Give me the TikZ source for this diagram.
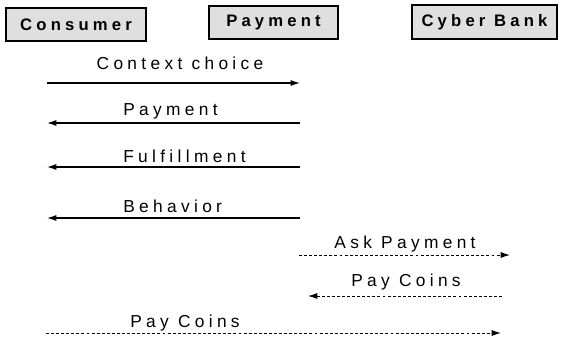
\documentclass[tikz,border=0pt]{standalone}
\usepackage{fontspec}
\setmainfont{Liberation Sans}
\newfontfamily\spacedfont[LetterSpace=25]{Liberation Sans}
\usetikzlibrary{arrows.meta}

\tikzset{
  actor/.style={draw=black, line width=1.3pt, fill=gray!25, minimum height=25pt, inner sep=0pt,
    font=\spacedfont\bfseries\fontsize{12.5}{14}\selectfont},
  msg/.style={line width=0.9pt, -{Latex[length=7pt,width=4.5pt]}},
  reply/.style={msg, line width=0.7pt, dash pattern=on 2.2pt off 1.6pt},
  lbl/.style={inner sep=0pt}
}

\begin{document}
\begin{tikzpicture}[x=0.75pt,y=-0.75pt]
		\tikzstyle{every node}+=[font=\spacedfont\fontsize{13}{15}\selectfont]
		\useasboundingbox (0,0) rectangle (563,339);
		% the three parties
		\node [actor, minimum width=105pt] (consumer) at (76,24.5) {Consumer};
		\node [actor, minimum width=97pt] (payment) at (273.5,22.5) {Payment};
		\node [actor, minimum width=109pt] (bank) at (484.5,22) {Cyber Bank};
		% message end points
		\coordinate (c1) at (47,83);   \coordinate (p1) at (300,83);
		\coordinate (c2) at (47,123);  \coordinate (p2) at (300,123);
		\coordinate (c3) at (47,167);  \coordinate (p3) at (300,167);
		\coordinate (c4) at (47,218);  \coordinate (p4) at (300,218);
		\coordinate (p5) at (299,255); \coordinate (b5) at (510,255);
		\coordinate (p6) at (308,296); \coordinate (b6) at (502,296);
		\coordinate (c7) at (46,333);  \coordinate (b7) at (501,333);
		% solid messages
		\draw [msg] (c1) -- (p1);
		\node [lbl] (l1) at (180,63) {Context choice};
		\draw [msg] (p2) -- (c2);
		\node [lbl, anchor=west] (l2) at (123,111) {Payment};
		\draw [msg] (p3) -- (c3);
		\node [lbl, anchor=west] (l3) at (123,156) {Fulfillment};
		\draw [msg] (p4) -- (c4);
		\node [lbl, anchor=west] (l4) at (123,206) {Behavior};
		% dashed messages
		\draw [reply] (p5) -- (b5);
		\node [lbl] (l5) at (405,244) {Ask Payment};
		\draw [reply] (b6) -- (p6);
		\node [lbl] (l6) at (406,282) {Pay Coins};
		\draw [reply] (c7) -- (b7);
		\node [lbl] (l7) at (185,323) {Pay Coins};
	\end{tikzpicture}
\end{document}
